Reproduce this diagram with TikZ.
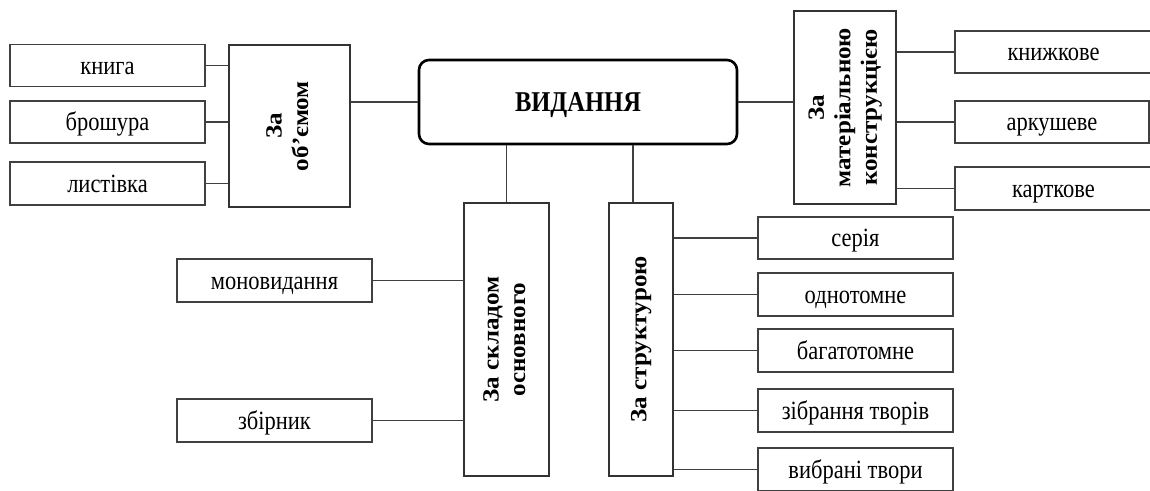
\documentclass[tikz,border=0pt]{standalone}
\usepackage{fontspec}
\setmainfont{Liberation Serif}[FakeStretch=0.855]
\newfontfamily\vfont{Liberation Serif}[FakeStretch=1.08]
\usepackage{graphicx}
\usepackage{tikz}
\usetikzlibrary{positioning}
\usetikzlibrary{calc}
\newcommand{\vlabel}[1]{\rotatebox{90}{\begin{tabular}{@{}c@{}}#1\end{tabular}}}
\tikzset{%
  link/.style = {draw=black!75, line width=1.1pt},
  leaf/.style = {rectangle,draw=black!75,line width=1.1pt,minimum width=195pt,
        minimum height=42pt,inner sep=0pt,text height=19pt,text depth=2pt,
        font=\fontsize{26.3}{30}\selectfont},
  group/.style = {rectangle,draw=black!80,line width=1.1pt,inner sep=0pt,
        font=\fontsize{23.2}{26.5}\vfont\bfseries},
  root/.style = {rectangle,draw,line width=2.6pt,rounded corners=10pt,
        minimum width=318pt,minimum height=84pt,inner sep=0pt,
        text height=21pt,text depth=2pt,
        font=\fontsize{28.7}{32}\selectfont\bfseries}
}

\begin{document}
\begin{tikzpicture}[x=1pt,y=-1pt]
\useasboundingbox (0,0) rectangle (1150,490);
\clip (0,0) rectangle (1150,490);

\node[root] (vyd) at (578,102) {ВИДАННЯ};

% za obsyagom
\node[group,minimum width=121pt,minimum height=162pt] (ob) at (289.5,126) {\vlabel{За\\об’ємом}};
\node[leaf] (knyha) at (107.5,65.5) {книга};
\node[leaf] (broshura) at (107.5,122) {брошура};
\node[leaf,minimum height=43pt] (lystivka) at (107.5,183.5) {листівка};

% za materialnoyu konstrukciyeyu
\node[group,minimum width=102pt,minimum height=193pt] (mk) at (845,107.5) {\vlabel{За\\матеріальною\\конструкцією}};
\node[leaf,minimum width=197pt] (knyzhk) at (1053.5,52) {книжкове};
\node[leaf,minimum width=194pt] (arkush) at (1052,122) {аркушеве};
\node[leaf,minimum width=197pt,minimum height=43pt] (kartk) at (1053.5,188.5) {карткове};

% za skladom osnovnoho
\node[group,minimum width=85pt,minimum height=273pt] (sk) at (506.5,339.5) {\vlabel{За складом\\основного}};
\node[leaf,minimum height=43pt] (monovyd) at (274.5,280.5) {моновидання};
\node[leaf,minimum height=43pt] (zbirnyk) at (274.5,420.5) {збірник};

% za strukturoyu
\node[group,minimum width=64pt,minimum height=273pt] (st) at (641,339.5) {\vlabel{За структурою}};
\node[leaf] (seriya) at (855.5,238) {серія};
\node[leaf,minimum height=43pt] (odnot) at (855.5,294.5) {однотомне};
\node[leaf,minimum height=43pt] (bahat) at (855.5,350.5) {багатотомне};
\node[leaf,minimum height=43pt] (zibr) at (855.5,410.5) {зібрання творів};
\node[leaf,minimum height=43pt] (vybr) at (855.5,469.5) {вибрані твори};

\draw[link] (vyd.west) -- (vyd.west -| ob.east);
\draw[link] (vyd.east) -- (vyd.east -| mk.west);
\draw[link] (vyd.south -| sk.north) -- (sk.north);
\draw[link] ($(vyd.south -| st.north)+(-8,0)$) -- ($(st.north)+(-8,0)$);

\foreach \n in {knyha,broshura,lystivka}
  \draw[link] (\n.east) -- (\n.east -| ob.west);
\foreach \n in {knyzhk,arkush,kartk}
  \draw[link] (\n.west) -- (\n.west -| mk.east);
\foreach \n in {monovyd,zbirnyk}
  \draw[link] (\n.east) -- (\n.east -| sk.west);
\foreach \n in {seriya,odnot,bahat,zibr,vybr}
  \draw[link] (\n.west) -- (\n.west -| st.east);
\end{tikzpicture}
\end{document}
